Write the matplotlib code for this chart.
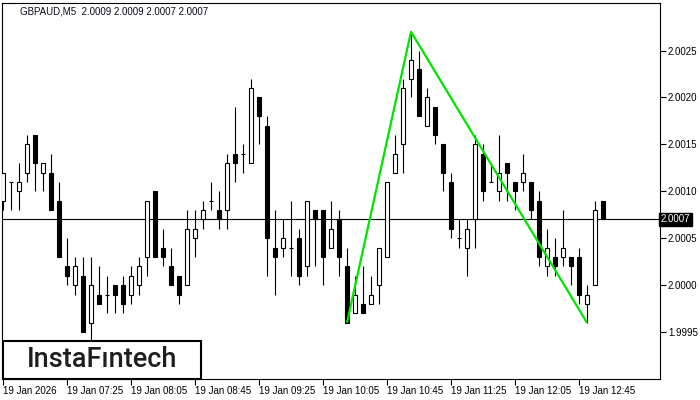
""" =======================  Import dependencies ========================== """

import numpy as np
import matplotlib
matplotlib.use("Agg")
import matplotlib.pyplot as plt
from matplotlib.patches import Rectangle

""" =======================  Chart data ========================== """

symbol = "GBPAUD,M5"
last_ohlc = [2.0009, 2.0009, 2.0007, 2.0007]

# GBPAUD M5 candles, 19 Jan 06:45 .. 13:00
opens = [2.0009, 2.0011, 2.0010, 2.0012, 2.0016, 2.0012, 2.0012, 2.0009, 2.0002, 2.0000,
         2.0001, 1.9996, 1.9999, 1.9999, 2.0000, 2.0000, 1.9999, 2.0000, 2.0003, 2.0010,
         2.0004, 2.0002, 2.0001, 2.0000, 2.0005, 2.0007, 2.0009, 2.0008, 2.0008, 2.0014,
         2.0014, 2.0013, 2.0020, 2.0017, 2.0004, 2.0004, 2.0004, 2.0005, 2.0002, 2.0008,
         2.0008, 2.0004, 2.0007, 2.0002, 1.9997, 1.9998, 1.9998, 2.0000, 2.0003, 2.0012,
         2.0015, 2.0022, 2.0023, 2.0017, 2.0019, 2.0015, 2.0011, 2.0005, 2.0004, 2.0007,
         2.0014, 2.0011, 2.0010, 2.0013, 2.0011, 2.0011, 2.0011, 2.0009, 2.0002, 2.0003,
         2.0003, 2.0003, 2.0003, 1.9998, 2.0000, 2.0009]
highs = [2.0012, 2.0011, 2.0013, 2.0016, 2.0016, 2.0013, 2.0014, 2.0011, 2.0005, 2.0003,
         2.0003, 2.0003, 2.0002, 2.0001, 2.0000, 2.0001, 2.0002, 2.0003, 2.0009, 2.0010,
         2.0006, 2.0004, 2.0001, 2.0008, 2.0008, 2.0009, 2.0011, 2.0010, 2.0014, 2.0019,
         2.0015, 2.0022, 2.0020, 2.0018, 2.0008, 2.0007, 2.0009, 2.0006, 2.0009, 2.0008,
         2.0008, 2.0009, 2.0008, 2.0004, 2.0001, 2.0002, 2.0001, 2.0004, 2.0011, 2.0016,
         2.0022, 2.0027, 2.0025, 2.0021, 2.0019, 2.0015, 2.0012, 2.0007, 2.0007, 2.0016,
         2.0015, 2.0013, 2.0016, 2.0013, 2.0011, 2.0014, 2.0011, 2.0010, 2.0006, 2.0005,
         2.0008, 2.0003, 2.0004, 2.0000, 2.0009, 2.0009]
lows = [2.0008, 2.0008, 2.0008, 2.0011, 2.0010, 2.0010, 2.0008, 2.0003, 2.0000, 1.9999,
        1.9995, 1.9994, 1.9998, 1.9997, 1.9997, 1.9997, 1.9998, 1.9999, 2.0001, 2.0003,
        2.0002, 2.0000, 1.9998, 2.0000, 2.0003, 2.0006, 2.0008, 2.0006, 2.0006, 2.0011,
        2.0012, 2.0013, 2.0015, 2.0001, 1.9999, 2.0003, 2.0001, 2.0000, 2.0001, 2.0002,
        2.0000, 2.0004, 2.0001, 1.9996, 1.9997, 1.9997, 1.9998, 1.9998, 2.0003, 2.0012,
        2.0012, 2.0020, 2.0018, 2.0017, 2.0015, 2.0010, 2.0005, 2.0004, 2.0001, 2.0004,
        2.0009, 2.0011, 2.0009, 2.0009, 2.0008, 2.0010, 2.0007, 2.0002, 2.0001, 2.0001,
        2.0002, 2.0000, 1.9998, 1.9996, 2.0000, 2.0007]
closes = [2.0012, 2.0011, 2.0011, 2.0015, 2.0013, 2.0013, 2.0008, 2.0003, 2.0001, 2.0002,
          1.9995, 2.0000, 1.9998, 1.9999, 1.9999, 1.9998, 2.0001, 2.0002, 2.0009, 2.0003,
          2.0003, 2.0000, 1.9999, 2.0006, 2.0006, 2.0008, 2.0009, 2.0007, 2.0013, 2.0013,
          2.0014, 2.0021, 2.0018, 2.0005, 2.0003, 2.0005, 2.0004, 2.0001, 2.0009, 2.0007,
          2.0003, 2.0006, 2.0003, 1.9996, 1.9999, 1.9997, 1.9999, 2.0004, 2.0011, 2.0014,
          2.0021, 2.0024, 2.0018, 2.0020, 2.0016, 2.0012, 2.0006, 2.0005, 2.0006, 2.0015,
          2.0010, 2.0011, 2.0012, 2.0012, 2.0010, 2.0012, 2.0008, 2.0003, 2.0004, 2.0002,
          2.0004, 2.0002, 1.9999, 1.9999, 2.0008, 2.0007]

# Double top pattern (green zigzag)
pattern_idx = [43, 51, 73]
pattern_price = [1.9996, 2.0027, 1.9996]

xtick_idx = [0, 8, 16, 24, 32, 40, 48, 56, 64, 72]
xtick_labels = ["19 Jan 2026", "19 Jan 07:25", "19 Jan 08:05", "19 Jan 08:45",
                "19 Jan 09:25", "19 Jan 10:05", "19 Jan 10:45", "19 Jan 11:25",
                "19 Jan 12:05", "19 Jan 12:45"]
ytick_vals = [1.9995, 2.0000, 2.0005, 2.0010, 2.0015, 2.0020, 2.0025]

""" =======================  Drawing ========================== """

FONT = "Liberation Sans"


def draw_candles(ax, o, h, l, c):
    o, h, l, c = map(np.asarray, (o, h, l, c))
    x = np.arange(len(o))
    ax.vlines(x, l, h, color="black", linewidth=0.8, zorder=2)

    up = c > o
    down = c < o
    flat = c == o
    # bullish -> hollow, bearish -> filled
    ax.bar(x[up], (c - o)[up], bottom=o[up], width=0.5, facecolor="white",
           edgecolor="black", linewidth=0.8, zorder=3)
    ax.bar(x[down], (o - c)[down], bottom=c[down], width=0.5, facecolor="black",
           edgecolor="black", linewidth=0.8, zorder=3)
    ax.hlines(o[flat], x[flat] - 0.3, x[flat] + 0.3, color="black",
              linewidth=0.8, zorder=3)


def main():
    fig = plt.figure(figsize=(7, 4), dpi=100)
    ax = fig.add_axes([2 / 700, 21 / 400, 657.7 / 700, 376.3 / 400])

    draw_candles(ax, opens, highs, lows, closes)

    # pattern lines
    ax.plot(pattern_idx, pattern_price, color="#00e400", linewidth=1.6,
            zorder=4, solid_capstyle="butt")

    # current price line
    ax.axhline(closes[-1], color="black", linewidth=0.8, zorder=1)

    ax.set_xlim(-0.125, 82.09)
    ax.set_ylim(1.99900, 2.00301)

    ax.set_xticks(xtick_idx, xtick_labels)
    for lbl in ax.get_xticklabels():
        lbl.set_ha("left")
        lbl.set_fontfamily(FONT)
        lbl.set_fontsize(7)
    ax.tick_params(axis="x", direction="out", length=4, width=0.8, pad=1)

    ax.yaxis.tick_right()
    ax.set_yticks(ytick_vals, ["%.4f" % v for v in ytick_vals])
    for lbl in ax.get_yticklabels():
        lbl.set_fontfamily(FONT)
        lbl.set_fontsize(7)
    ax.tick_params(axis="y", direction="out", length=4, width=0.8, pad=2)

    for s in ax.spines.values():
        s.set_linewidth(0.8)

    # price tag on the axis
    ax.text(1.0015, closes[-1], "%.4f" % closes[-1], transform=ax.get_yaxis_transform(),
            ha="left", va="center", color="white", fontsize=7, fontfamily=FONT,
            bbox=dict(boxstyle="square,pad=0.15", facecolor="black", edgecolor="black"),
            zorder=6, clip_on=False)

    # header
    header = "%s  %s" % (symbol, " ".join("%.4f" % v for v in last_ohlc))
    ax.text(18 / 657.7, 1 - 8.5 / 376.3, header, transform=ax.transAxes,
            ha="left", va="center", fontsize=7, fontfamily=FONT, color="#0a0a1e")

    # logo box
    fig.add_artist(Rectangle((3 / 700, 21 / 400), 198 / 700, 38 / 400,
                             transform=fig.transFigure, facecolor="white",
                             edgecolor="black", linewidth=1.5, zorder=10))
    fig.text(102 / 700, 40.5 / 400, "InstaF\u0131ntech", ha="center", va="center",
             fontsize=19.5, fontfamily="Roboto", fontweight="medium",
             color="#1e1e1e", zorder=11)

    fig.savefig("out.png", dpi=100)


if __name__ == "__main__":
    main()
